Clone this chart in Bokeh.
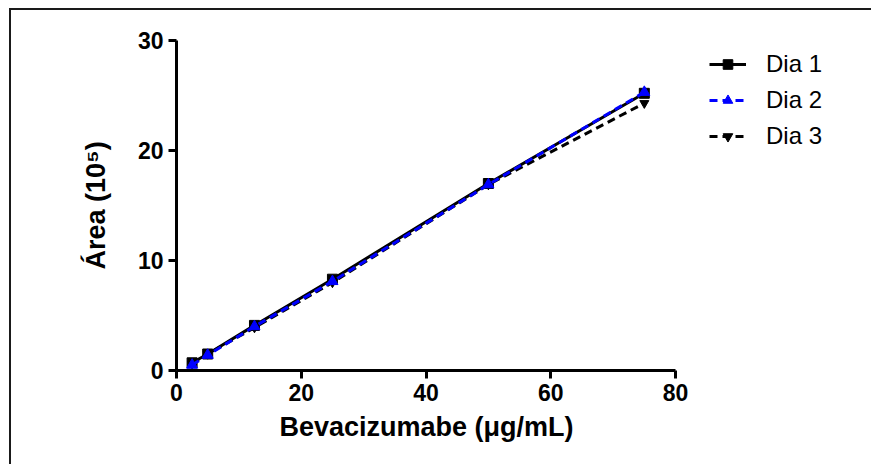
from bokeh.plotting import figure
from bokeh.layouts import column
from bokeh.models import Range1d, Legend, LegendItem, FixedTicker, Title
from bokeh.embed import file_html
from bokeh.resources import INLINE

# data
conc = [2.5, 5, 12.5, 25, 50, 75]
dia1 = [0.7, 1.5, 4.1, 8.3, 17.0, 25.2]
dia2 = [0.5, 1.4, 4.0, 8.1, 16.9, 25.3]
dia3 = [0.6, 1.5, 3.9, 8.0, 16.9, 24.3]
series_names = ["Dia 1", "Dia 2", "Dia 3"]
x_ticks = [0, 20, 40, 60, 80]
y_ticks = [0, 10, 20, 30]
x_label = "Bevacizumabe (\u03bcg/mL)"
y_label = "\u00c1rea (10\u2075)"

FONT = "Liberation Sans"

fig = figure(width=860, height=454,
             x_range=Range1d(0, 110.62), y_range=Range1d(0, 30),
             output_backend="svg", toolbar_location=None,
             min_border_left=165, min_border_right=5,
             min_border_top=30, min_border_bottom=94)
fig.outline_line_color = None
fig.grid.visible = False
fig.background_fill_color = "white"
fig.border_fill_color = "white"

for ax in (fig.xaxis[0], fig.yaxis[0]):
    ax.axis_line_width = 3
    ax.axis_line_color = "black"
    ax.major_tick_line_width = 3
    ax.major_tick_line_color = "black"
    ax.major_tick_out = 8
    ax.major_tick_in = 0
    ax.minor_tick_line_color = None
    ax.major_label_text_font = FONT
    ax.major_label_text_font_style = "bold"
    ax.major_label_text_font_size = "23px"
    ax.major_label_text_color = "black"
    ax.axis_label_text_font = FONT
    ax.axis_label_text_font_style = "bold"
    ax.axis_label_text_font_size = "27px"
    ax.axis_label_text_color = "black"

fig.xaxis[0].ticker = FixedTicker(ticks=x_ticks)
fig.yaxis[0].ticker = FixedTicker(ticks=y_ticks)
fig.xaxis[0].bounds = (0, 80)
fig.yaxis[0].axis_label = y_label
fig.xaxis[0].major_label_standoff = 5
fig.yaxis[0].major_label_standoff = 5
fig.yaxis[0].axis_label_standoff = 24

xt = Title(text=x_label, align="left", offset=103, standoff=12,
           text_font=FONT, text_font_style="bold", text_font_size="27px",
           text_color="black")
fig.add_layout(xt, "below")

l3 = fig.line(conc, dia3, line_color="black", line_width=3, line_dash="8 5")
m3 = fig.scatter(conc, dia3, marker="inverted_triangle", size=9, color="black")
l1 = fig.line(conc, dia1, line_color="black", line_width=3)
m1 = fig.scatter(conc, dia1, marker="square", size=10, color="black")
l2 = fig.line(conc, dia2, line_color="#0000ff", line_width=3, line_dash="8 5")
m2 = fig.scatter(conc, dia2, marker="triangle", size=11, color="#0000ff")

legend = Legend(items=[
    LegendItem(label=series_names[0], renderers=[l1, m1]),
    LegendItem(label=series_names[1], renderers=[l2, m2]),
    LegendItem(label=series_names[2], renderers=[l3, m3]),
], location=(533, 220))
legend.border_line_color = None
legend.background_fill_alpha = 0
legend.padding = 0
legend.margin = 0
legend.glyph_width = 37
legend.glyph_height = 24
legend.label_standoff = 20
legend.spacing = 8
legend.label_text_font = FONT
legend.label_text_font_size = "24px"
legend.label_text_color = "black"
fig.add_layout(legend)

p = column(fig, styles={"margin-left": "9px", "margin-top": "8px",
                        "border-left": "2px solid #1a1a1a",
                        "border-top": "2px solid #1a1a1a"})

open("out.html", "w").write(file_html(p, INLINE))
